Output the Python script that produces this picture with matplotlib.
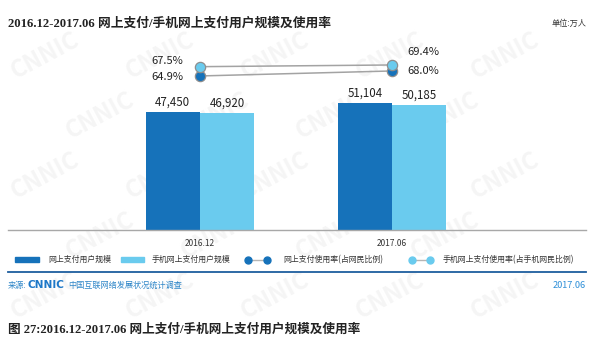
import matplotlib
matplotlib.use("Agg")
import matplotlib.pyplot as plt
import numpy as np
from matplotlib.lines import Line2D
from matplotlib.patches import Rectangle

# data (万人 / %)
periods = ["2016.12", "2017.06"]
pay_users = [47450, 51104]
mobile_pay_users = [46920, 50185]
pay_rate = [64.9, 68.0]
mobile_pay_rate = [67.5, 69.4]

legend_labels = ["网上支付用户规模", "手机网上支付用户规模",
                 "网上支付使用率(占网民比例)", "手机网上支付使用率(占手机网民比例)"]
title = "2016.12-2017.06 网上支付/手机网上支付用户规模及使用率"
caption = "图 27:2016.12-2017.06 网上支付/手机网上支付用户规模及使用率"

W, H = 598, 347
DARK = "#1672BA"
LIGHT = "#6ACBEE"
GRAY = "#A3A3A3"
CJK = ["Noto Sans CJK SC", "DejaVu Sans"]
SERIF = ["Liberation Serif", "Noto Sans CJK SC"]

plt.rcParams["font.family"] = CJK


def fx(px):
    return px / W


def fy(py):
    return 1 - py / H


fig = plt.figure(figsize=(W / 100, H / 100), dpi=100)

# faint watermark, kept inside the canvas
for row, yy in enumerate(range(55, 300, 60)):
    for xx in range(45 + (row % 2) * 55, 560, 115):
        fig.text(fx(xx), fy(yy), "CNNIC", fontsize=17, fontweight="bold",
                 color="#F5F5F5", rotation=28, ha="center", va="center", zorder=-5)

ax = fig.add_axes([fx(8), fy(230), fx(586) - fx(8), (230 - 40) / H])
ax.patch.set_alpha(0)
x = np.arange(len(periods))
w = 0.283
b1 = ax.bar(x - w / 2, pay_users, w, color=DARK)
b2 = ax.bar(x + w / 2, mobile_pay_users, w, color=LIGHT)
ax.set_xlim(-1.0, 2.0104)
ax.set_ylim(0, 76400)
for bars, vals in ((b1, pay_users), (b2, mobile_pay_users)):
    for r, v in zip(bars, vals):
        ax.annotate(f"{v:,}", (r.get_x() + r.get_width() / 2, v), xytext=(0, 4.6),
                    textcoords="offset points", ha="center", va="baseline",
                    fontsize=8.3, color="#222222")

ax.set_xticks(x, periods)
ax.tick_params(axis="x", length=0, pad=6.2, labelsize=6, labelcolor="#333333")
ax.set_yticks([])
for s in ("top", "left", "right"):
    ax.spines[s].set_visible(False)
ax.spines["bottom"].set_color("#A8A8A8")
ax.spines["bottom"].set_linewidth(1)

ax2 = ax.twinx()
ax2.set_ylim(-30.6, 87.2)
ax3 = ax.twinx()
ax3.set_ylim(-115, 97.3)
for a, vals, col in ((ax2, pay_rate, DARK), (ax3, mobile_pay_rate, LIGHT)):
    a.plot(x, vals, color=GRAY, lw=1.1, marker="o", markersize=7.4,
           mfc=col, mec="#8E8E8E", mew=0.9)
    a.set_yticks([])
    for s in a.spines.values():
        s.set_visible(False)

offsets = {
    (0, 0): (-12, -0.7, "right"), (0, 1): (10.8, 0, "left"),
    (1, 0): (-12, 4.2, "right"), (1, 1): (10.8, 9.4, "left"),
}
for k, (a, vals) in enumerate(((ax2, pay_rate), (ax3, mobile_pay_rate))):
    for i, v in enumerate(vals):
        dx, dy, ha = offsets[(k, i)]
        a.annotate(f"{v:.1f}%", (x[i], v), xytext=(dx, dy), textcoords="offset points",
                   ha=ha, va="center", fontsize=8, color="#222222")

# legend row
fig.add_artist(Rectangle((fx(15), fy(261.5)), fx(24), 5 / H, color=DARK))
fig.add_artist(Rectangle((fx(121), fy(261.5)), fx(23), 5 / H, color=LIGHT))
for x0, x1, col in ((248, 267, DARK), (412, 430, LIGHT)):
    fig.add_artist(Line2D([fx(x0), fx(x1)], [fy(259.5)] * 2, color="#B5B5B5", lw=1,
                          marker="o", markersize=5, mfc=col, mec=col))
for xx, lab in zip((48, 152, 283, 443), legend_labels):
    fig.text(fx(xx), fy(259.5), lab, fontsize=5.7, color="#333333", va="center")

fig.add_artist(Line2D([fx(8), fx(586)], [fy(272)] * 2, color="#1E5E9E", lw=1.3))

# header / footer text
fig.text(fx(8), fy(23), title, fontsize=9.2, fontweight="bold", family=SERIF,
         color="#222222", va="center")
fig.text(fx(586), fy(23), "单位:万人", fontsize=5.9, color="#333333", ha="right", va="center")
fig.text(fx(8), fy(285.5), "来源:", fontsize=5.9, color="#2E86C8", va="center")
fig.text(fx(27), fy(285.5), "CNNIC", fontsize=7.6, fontweight="heavy", family="DejaVu Sans",
         color="#1E78C8", va="center")
fig.text(fx(68), fy(285.5), "中国互联网络发展状况统计调查", fontsize=5.9, color="#2E86C8",
         va="center")
fig.text(fx(586), fy(286), "2017.06", fontsize=6.6, color="#2E8FD8", ha="right", va="center")
fig.text(fx(8), fy(330), caption, fontsize=9.1, fontweight="bold", family=SERIF,
         color="#222222", va="center")

fig.savefig("out.png", dpi=100)
plt.close(fig)
